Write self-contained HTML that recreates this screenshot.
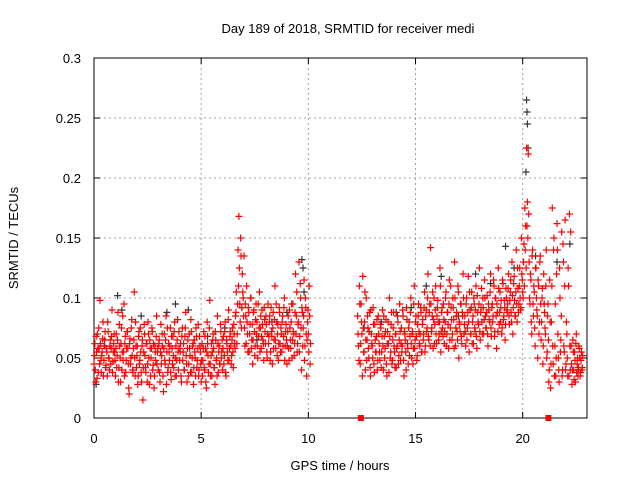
<!DOCTYPE html>
<html><head><meta charset="utf-8"><style>
body{margin:0;background:#fff}
svg{font-family:"Liberation Sans",sans-serif;font-size:13px}
</style></head><body>
<svg id="c" width="640" height="480"></svg>
<script>
const xTicks=[0,5,10,15,20];
const yTicks=[0,0.05,0.1,0.15,0.2,0.25,0.3];
const yTickLabels=["0","0.05","0.1","0.15","0.2","0.25","0.3"];
const seg1Start=0, seg2Start=12.3, step=0.04, offsetB=0.02;
const seg1Values=[45,62,30,55,70,38,58,98,48,52,66,35,60,72,44,55,80,50,40,65,58,90,47,62,55,
35,70,52,88,42,60,30,75,55,48,95,62,38,58,72,45,20,66,50,82,40,58,105,35,60,
52,28,68,45,75,38,60,15,55,70,42,62,30,80,50,65,35,58,72,44,25,60,48,85,55,
40,65,30,78,52,60,22,70,45,85,55,38,62,48,75,32,58,68,42,80,50,35,65,55,72,
48,62,30,75,55,40,68,88,45,58,35,70,52,82,38,60,28,65,50,75,42,58,35,68,55,
30,62,48,72,40,58,25,80,52,45,98,35,62,55,70,42,28,65,50,85,38,60,45,72,55,
40,68,52,80,35,62,48,90,58,72,45,65,55,78,62,85,105,70,140,168,95,150,75,120,100,
135,60,85,110,70,92,55,78,100,65,45,88,72,60,95,80,50,68,105,75,58,90,65,48,82,
62,78,50,95,68,85,55,72,45,88,65,110,58,80,70,48,92,62,75,55,85,68,100,60,78,
45,72,58,90,65,80,50,95,70,62,120,85,55,78,130,68,100,40,88,75,115,60,92,35,80,
70,110,45];
const seg1ValuesB=[52,40,68,33,58,75,45,62,38,55,80,48,65,42,58,35,72,50,60,45,68,38,55,70,48,
58,42,65,30,78,50,62,40,85,55,35,68,48,72,58,25,62,45,75,52,38,65,50,80,42,
60,35,72,48,55,30,65,42,78,52,38,62,45,70,28,58,50,75,40,62,35,55,68,45,58,
62,38,55,45,70,35,58,48,65,28,75,42,55,60,38,68,45,52,72,35,60,48,82,40,58,
55,35,68,48,62,40,75,52,30,65,45,58,38,72,50,62,42,55,35,68,48,78,40,60,45,
48,35,58,42,68,30,55,62,38,75,45,52,35,65,58,42,72,48,35,62,55,45,78,50,65,
58,45,72,38,65,55,82,48,68,60,52,75,42,70,58,88,62,95,110,125,80,135,92,105,85,
75,95,62,80,55,88,70,100,58,78,65,90,52,82,70,60,95,75,55,85,68,78,62,92,72,
85,55,70,62,80,48,92,68,75,58,82,65,95,52,78,62,88,55,70,80,60,92,48,72,65,
60,85,48,75,58,95,65,72,52,88,70,105,62,80,55,112,75,92,60,85,48,100,70,65,90,
55,85,62];
const seg2Values=[85,60,110,45,95,70,118,55,80,40,100,65,75,50,88,35,70,60,92,45,78,55,68,40,85,
62,48,75,55,90,40,68,58,82,35,72,62,100,50,78,45,65,88,55,70,42,60,80,52,95,
48,75,60,85,35,70,55,92,62,45,80,68,100,50,72,58,110,65,85,48,78,95,62,70,88,
55,82,70,105,60,90,75,120,65,95,142,72,85,58,100,78,110,62,92,80,70,125,55,88,75,
95,62,80,105,70,88,58,115,75,92,65,100,82,130,60,85,72,110,50,78,95,68,88,120,70,
85,60,100,75,118,55,90,70,105,80,62,95,72,110,58,88,78,125,65,92,80,100,70,115,85,
75,102,60,90,80,120,68,95,85,110,72,100,58,88,125,78,105,92,70,115,82,98,65,108,90,
95,120,78,105,88,130,70,112,98,85,140,80,108,95,125,90,150,115,100,145,175,160,225,180,220,
130,95,115,70,140,85,105,60,125,90,50,110,80,135,65,100,45,120,88,70,140,55,95,30,115,
25,80,175,45,150,60,35,120,140,50,30,100,65,155,40,130,55,165,45,70,35,110,170,40,60,
28,65,40,55,30,70,45,35,60,50,38,55,42];
const seg2ValuesB=[70,48,95,62,80,35,75,55,105,65,48,85,58,72,42,90,62,50,78,38,65,55,82,48,70,
55,78,42,68,60,85,50,72,45,62,80,38,68,55,88,48,75,60,42,70,58,85,45,65,72,
62,55,90,48,72,65,40,82,58,75,52,88,62,70,45,95,58,80,68,52,85,72,60,92,55,
78,65,92,55,85,72,100,68,88,60,95,75,105,82,62,90,70,85,98,65,80,110,72,92,68,
82,72,100,60,88,78,95,65,110,82,70,92,58,100,75,88,65,105,80,72,95,62,85,100,78,
72,95,65,88,80,105,70,92,62,85,100,75,90,68,102,80,95,72,88,108,70,92,82,100,75,
88,70,95,82,105,75,92,80,115,68,100,85,95,72,108,88,80,98,75,112,85,92,78,100,88,
108,85,98,115,80,102,92,118,85,105,95,125,88,110,100,92,120,105,130,110,140,125,160,150,170,
100,120,80,135,95,110,75,125,100,85,115,70,130,95,80,108,60,95,75,110,50,85,65,40,80,
45,110,60,140,35,95,50,162,70,40,125,55,85,35,145,60,110,40,80,50,125,35,60,155,45,
40,55,32,48,62,38,50,42,58,35,48,40,52];
const blackTimes=[0.1,0.5,1.1,1.3,2.2,3.4,3.8,4.4,5.3,6.1,6.9,7.6,8.3,9.0,9.7,9.75,9.8,12.6,13.4,14.1,14.8,15.5,16.2,17.0,17.8,18.5,19.2,19.6,20.15,20.18,20.2,20.22,20.25,20.6,21.0,21.6,22.2,22.6];
const blackValues=[28,60,102,90,85,88,95,90,68,75,92,65,80,88,132,125,105,75,80,88,92,110,118,85,120,112,143,125,205,265,255,245,225,135,95,130,145,40];
const markerTimes=[12.45,21.2];

const NS="http://www.w3.org/2000/svg";
const svg=document.getElementById('c');
const L=94,R=587,T=58,B=418;
const X=h=>L+(h/23)*(R-L);
const Y=v=>B-(v/0.3)*(B-T);
function el(t,a,p){const e=document.createElementNS(NS,t);for(const k in a)e.setAttribute(k,a[k]);(p||svg).appendChild(e);return e;}
yTicks.forEach((v,i)=>{
 if(i>0&&i<yTicks.length-1){const g=el('line',{x1:L,x2:R,y1:Y(v),y2:Y(v),stroke:'#a0a0a0','stroke-dasharray':'2,3'});
 
 }
 el('line',{x1:L,x2:L+6,y1:Y(v),y2:Y(v),stroke:'#000'});
 el('line',{x1:R,x2:R-6,y1:Y(v),y2:Y(v),stroke:'#000'});
 const t=el('text',{x:L-13,y:Y(v)+5,'text-anchor':'end'});t.textContent=yTickLabels[i];
 
 
});
xTicks.forEach(h=>{
 if(h>0){const g=el('line',{x1:X(h),x2:X(h),y1:T,y2:B,stroke:'#a0a0a0','stroke-dasharray':'2,3'});
 
 }
 el('line',{x1:X(h),x2:X(h),y1:B,y2:B-6,stroke:'#000'});
 el('line',{x1:X(h),x2:X(h),y1:T,y2:T+6,stroke:'#000'});
 const t=el('text',{x:X(h),y:B+25,'text-anchor':'middle'});t.textContent=h;
 
 
});
const frame=el('rect',{x:L,y:T,width:R-L,height:B-T,fill:'none',stroke:'#000'});


function plus(h,v,col){const p=el('path',{d:`M${X(h)-3.5},${Y(v)}h7M${X(h)},${Y(v)-3.5}v7`,stroke:col,'stroke-width':1.2});
 
 }
blackTimes.forEach((h,i)=>plus(h,blackValues[i]/1000,'#333'));
seg1Values.forEach((v,i)=>plus(seg1Start+i*step,v/1000,'#ff0000'));
seg1ValuesB.forEach((v,i)=>plus(seg1Start+offsetB+i*step,v/1000,'#ff0000'));
seg2Values.forEach((v,i)=>plus(seg2Start+i*step,v/1000,'#ff0000'));
seg2ValuesB.forEach((v,i)=>plus(seg2Start+offsetB+i*step,v/1000,'#ff0000'));
markerTimes.forEach(h=>{const s=el('rect',{x:X(h)-3,y:B-3,width:6,height:6,fill:'#ff0000'});
 
 });
const ti=el('text',{x:348,y:33,'text-anchor':'middle'});ti.textContent='Day 189 of 2018, SRMTID for receiver medi';


const xt=el('text',{x:340,y:470,'text-anchor':'middle'});xt.textContent='GPS time / hours';


const yt=el('text',{x:0,y:0,'text-anchor':'middle',transform:'translate(18,238) rotate(-90)'});yt.textContent='SRMTID / TECUs';


</script>
</body></html>
